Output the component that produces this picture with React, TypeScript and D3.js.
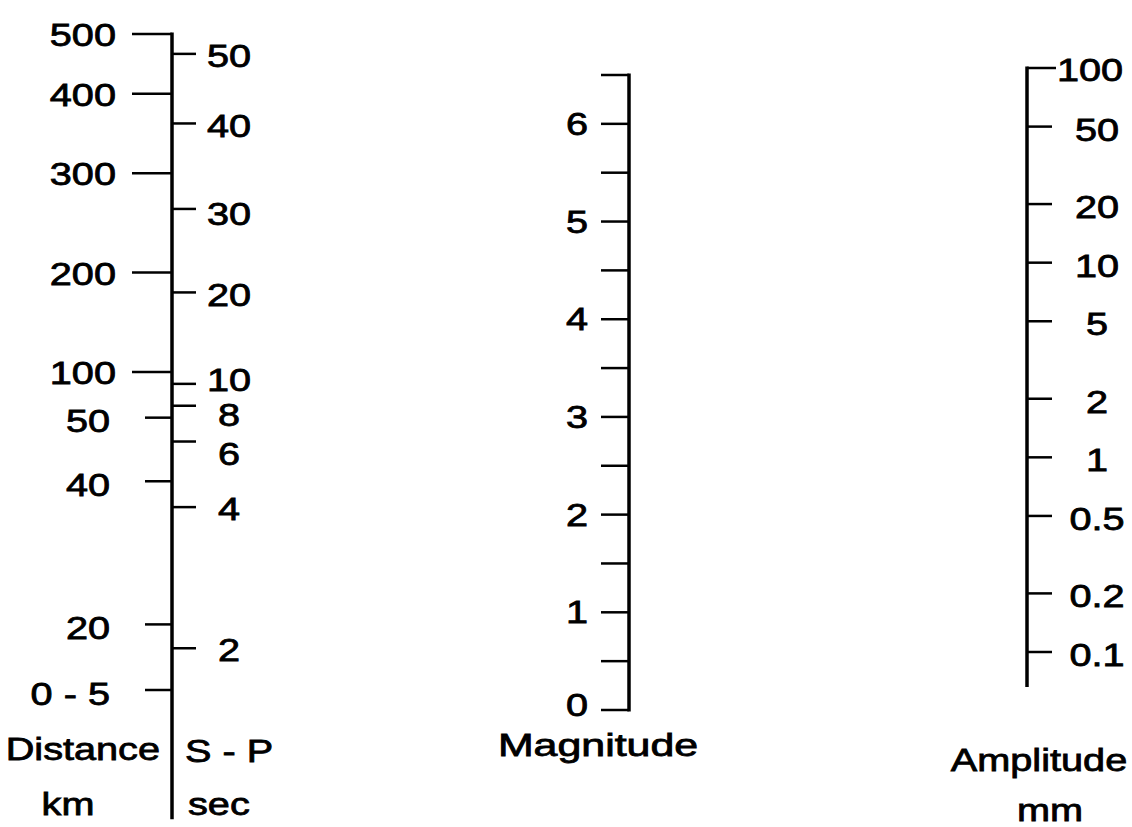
import React, { useEffect, useRef } from 'react';
import * as d3 from 'd3';

// Distance (km) ticks, placed by their -log A0 value along the nomogram
const distanceLabels = ['500', '400', '300', '200', '100', '50', '40', '20', '0 - 5'];
const distanceLogA0 = [4.7, 4.4, 4.0, 3.5, 3.0, 2.77, 2.45, 1.73, 1.4];

// S-P interval (sec) ticks, same nomogram units
const spLabels = ['50', '40', '30', '20', '10', '8', '6', '4', '2'];
const spLogA0 = [4.6, 4.25, 3.82, 3.4, 2.94, 2.83, 2.65, 2.32, 1.61];

// Magnitude scale
const magnitudeTicks = [0, 0.5, 1, 1.5, 2, 2.5, 3, 3.5, 4, 4.5, 5, 5.5, 6, 6.5];
const magnitudeLabels = [0, 1, 2, 3, 4, 5, 6];

// Amplitude (mm), log scale
const amplitudeTicks = [100, 50, 20, 10, 5, 2, 1, 0.5, 0.2, 0.1];
const amplitudeLabels = ['100', '50', '20', '10', '5', '2', '1', '0.5', '0.2', '0.1'];

const W = 1132;
const H = 827;
const FONT = "'Liberation Sans', Arial, Helvetica, sans-serif";
const FS = 32;
const SX = 1.24; // the scanned lettering is wider than Arial

// small vertical nudges where the S-P labels are crowded
const spNudge: Record<string, number> = { '10': -6, '8': 7, '6': 10, '30': 3 };

const Nomogram = () => {
  const ref = useRef<SVGSVGElement>(null);

  useEffect(() => {
    const svg = d3.select(ref.current);
    svg.selectAll('*').remove();

    const label = (x: number, y: number, str: string, anchor: string, baseline = 'central', sx = SX) =>
      svg
        .append('text')
        .attr('transform', `translate(${x},${y}) scale(${sx},1)`)
        .attr('text-anchor', anchor)
        .attr('dominant-baseline', baseline)
        .attr('font-family', FONT)
        .attr('font-size', FS)
        .attr('fill', '#000')
        .attr('stroke', '#000')
        .attr('stroke-width', 0.8)
        .text(str);

    const line = (x1: number, y1: number, x2: number, y2: number, w: number) =>
      svg
        .append('line')
        .attr('x1', x1)
        .attr('y1', y1)
        .attr('x2', x2)
        .attr('y2', y2)
        .attr('stroke', '#000')
        .attr('stroke-width', w);

    // ---- left: distance / S-P ----
    const xL = 172;
    const yL = d3.scaleLinear().domain([1.4, 4.7]).range([690, 34]);
    line(xL, yL(4.7) - 1.5, xL, yL(0.75), 3.5);

    distanceLogA0.forEach((v, i) => {
      const long = i < 5;
      line(long ? 132 : 145, yL(v), xL, yL(v), 2.5);
      label(long ? 116 : 110, yL(v) + (i === 5 ? 3 : i > 5 ? 4 : 1), distanceLabels[i], 'end');
    });

    spLogA0.forEach((v, i) => {
      line(xL, yL(v), 196, yL(v), 2.5);
      label(229, yL(v) + 2 + (spNudge[spLabels[i]] || 0), spLabels[i], 'middle');
    });

    label(160, 760, 'Distance', 'end', 'auto');
    label(68, 815, 'km', 'middle', 'auto');
    label(185, 762, 'S - P', 'start', 'auto');
    label(188, 815, 'sec', 'start', 'auto');

    // ---- middle: magnitude ----
    const xM = 629;
    const yM = d3.scaleLinear().domain([0, 6.5]).range([710, 75]);
    line(xM, yM(6.5) - 1.5, xM, yM(0) + 1.5, 3.5);
    magnitudeTicks.forEach(v => line(601, yM(v), xM, yM(v), 2.5));
    magnitudeLabels.forEach(v => label(577, yM(v) - (v === 0 ? 5 : 0), String(v), 'middle'));
    label(598, 756, 'Magnitude', 'middle', 'auto', 1.34);

    // ---- right: amplitude ----
    const xR = 1027;
    const yR = d3.scaleLog().domain([0.1, 100]).range([652, 68]);
    line(xR, yR(100) - 1.5, xR, yR(0.1) + 35, 3.5);
    amplitudeTicks.forEach((v, i) => {
      line(xR, yR(v), i === 0 ? 1056 : 1052, yR(v), 2.5);
      if (i === 0) label(1057, yR(v) + 2, amplitudeLabels[i], 'start');
      else label(1097, yR(v) + 3, amplitudeLabels[i], 'middle');
    });
    label(1039, 771, 'Amplitude', 'middle', 'auto');
    label(1050, 821, 'mm', 'middle', 'auto');
  }, []);

  return (
    <svg
      ref={ref}
      width={W}
      height={H}
      style={{ position: 'absolute', left: 0, top: 0, background: '#fff' }}
    />
  );
};

export default function App() {
  return <Nomogram />;
}
